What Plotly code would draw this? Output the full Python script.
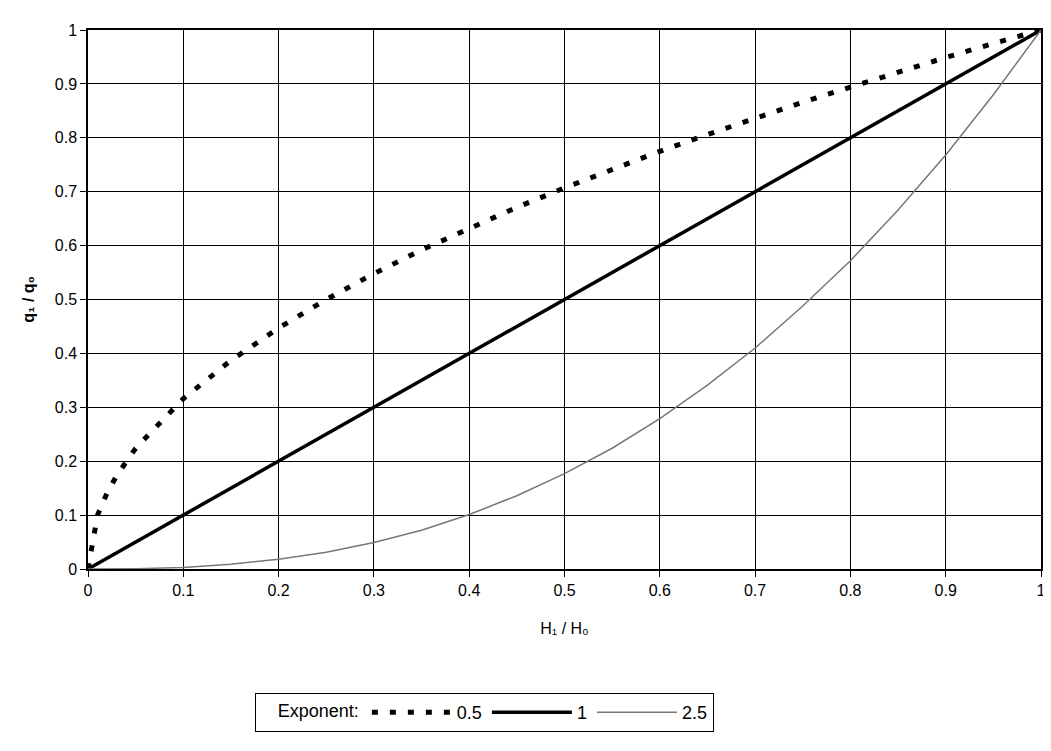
import plotly.graph_objects as go

h_ratio = [0, 0.01, 0.02, 0.03, 0.05, 0.1, 0.15, 0.2, 0.25, 0.3, 0.35, 0.4, 0.45, 0.5,
           0.55, 0.6, 0.65, 0.7, 0.75, 0.8, 0.85, 0.9, 0.95, 1.0]
q_exp_05 = [0, 0.1, 0.141, 0.173, 0.224, 0.316, 0.387, 0.447, 0.5, 0.548, 0.592, 0.632, 0.671,
            0.707, 0.742, 0.775, 0.806, 0.837, 0.866, 0.894, 0.922, 0.949, 0.975, 1.0]
q_exp_1 = [0, 0.01, 0.02, 0.03, 0.05, 0.1, 0.15, 0.2, 0.25, 0.3, 0.35, 0.4, 0.45, 0.5,
           0.55, 0.6, 0.65, 0.7, 0.75, 0.8, 0.85, 0.9, 0.95, 1.0]
q_exp_25 = [0, 0.00001, 0.00006, 0.00016, 0.00056, 0.003, 0.009, 0.018, 0.031, 0.049, 0.072,
            0.101, 0.136, 0.177, 0.224, 0.279, 0.341, 0.41, 0.488, 0.572, 0.666, 0.768, 0.88, 1.0]
ticks = [0, 0.1, 0.2, 0.3, 0.4, 0.5, 0.6, 0.7, 0.8, 0.9, 1]
tick_text = ['0', '0.1', '0.2', '0.3', '0.4', '0.5', '0.6', '0.7', '0.8', '0.9', '1']

font = "Liberation Sans Narrow, Arial Narrow, Liberation Sans, sans-serif"

fig = go.Figure()
fig.add_trace(go.Scatter(x=h_ratio, y=q_exp_05, mode='lines', name='0.5',
                         line=dict(color='black', width=5, dash='6px,12px')))
fig.add_trace(go.Scatter(x=h_ratio, y=q_exp_1, mode='lines', name='1',
                         line=dict(color='black', width=3.5)))
fig.add_trace(go.Scatter(x=h_ratio, y=q_exp_25, mode='lines', name='2.5',
                         line=dict(color='#777777', width=1.5)))

axis = dict(range=[0, 1], tickvals=ticks, ticktext=tick_text, showgrid=True,
            gridcolor='black', gridwidth=1, showline=True, linecolor='black',
            linewidth=1.5, mirror=True, ticks='outside', ticklen=6, tickcolor='black',
            zeroline=False, tickfont=dict(size=16, color='black'))

fig.update_xaxes(**axis, title=dict(text='H\u2081 / H\u2080', font=dict(size=16, color='black'), standoff=25))
fig.update_yaxes(**axis, title=dict(text='<b>q\u2081 / q\u2080</b>', font=dict(size=16, color='black'), standoff=16))

fig.update_layout(
    width=1051, height=751,
    margin=dict(l=80, r=18, t=22, b=190),
    plot_bgcolor='white', paper_bgcolor='white',
    font=dict(family=font, color='black'),
    legend=dict(orientation='h', x=0.175, xanchor='left', y=-0.23, yanchor='top',
                bordercolor='black', borderwidth=1, font=dict(size=18),
                title=dict(text='    Exponent:', font=dict(size=18)),
                itemwidth=80, traceorder='normal'),
)
fig.write_html("out.html")
